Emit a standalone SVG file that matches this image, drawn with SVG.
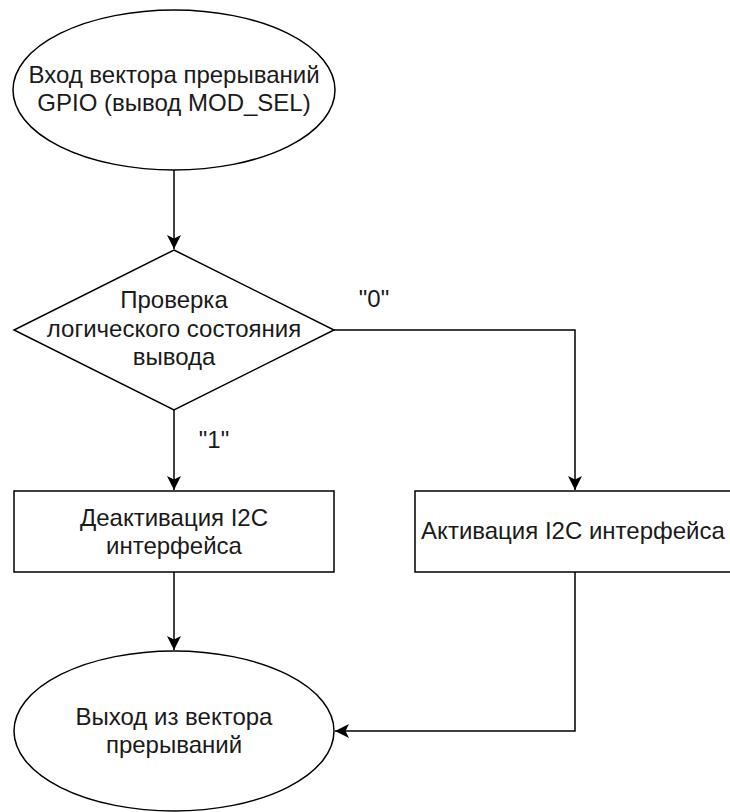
<svg xmlns="http://www.w3.org/2000/svg" width="730" height="812" viewBox="0 0 730 812">
  <style>
    .shape { fill: #ffffff; stroke: #000000; stroke-width: 1.5; }
    .edge { fill: none; stroke: #000000; stroke-width: 1.5; }
    text { font-family: "Liberation Sans", Arial, sans-serif; font-size: 24px; fill: #1a1a1a; text-anchor: middle; }
  </style>
  <defs>
    <marker id="arrow" viewBox="0 0 16 16" refX="15" refY="8" markerWidth="16" markerHeight="16" markerUnits="userSpaceOnUse" orient="auto">
      <path d="M15,8 L1,1 L4.5,8 L1,15 Z" fill="#000000" stroke="none"/>
    </marker>
  </defs>
  <rect width="730" height="812" fill="#ffffff"/>

  <g id="connectors">
    <path class="edge" d="M174,170 L174,249" marker-end="url(#arrow)"/>
    <path class="edge" d="M174,410 L174,490" marker-end="url(#arrow)"/>
    <path class="edge" d="M334,330 L575,330 L575,490" marker-end="url(#arrow)"/>
    <path class="edge" d="M174,572 L174,650" marker-end="url(#arrow)"/>
    <path class="edge" d="M575,572 L575,731 L335,731" marker-end="url(#arrow)"/>
    <text x="214" y="448">"1"</text>
    <text x="374" y="307">"0"</text>
  </g>

  <g id="start">
    <ellipse class="shape" cx="174" cy="90" rx="161" ry="80"/>
    <text x="174" y="83">Вход вектора прерываний</text>
    <text x="174" y="111">GPIO (вывод MOD_SEL)</text>
  </g>

  <g id="check">
    <polygon class="shape" points="174,250 334,330 174,410 14,330"/>
    <text x="174" y="308">Проверка</text>
    <text x="174" y="337">логического состояния</text>
    <text x="174" y="365">вывода</text>
  </g>

  <g id="deactivate">
    <rect class="shape" x="14" y="491" width="320" height="81"/>
    <text x="174" y="526">Деактивация I2C</text>
    <text x="174" y="554">интерфейса</text>
  </g>

  <g id="activate">
    <rect class="shape" x="415" y="491" width="330" height="81"/>
    <text x="573" y="539">Активация I2C интерфейса</text>
  </g>

  <g id="end">
    <ellipse class="shape" cx="174" cy="731" rx="160" ry="80"/>
    <text x="174" y="725">Выход из вектора</text>
    <text x="174" y="753">прерываний</text>
  </g>
</svg>
